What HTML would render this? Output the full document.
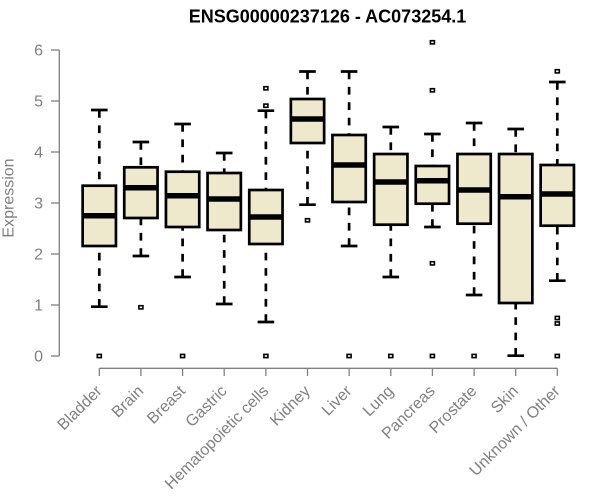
<!DOCTYPE html>
<html>
<head>
<meta charset="utf-8">
<style>
html,body{margin:0;padding:0;background:#fff;}
svg{display:block;}
text{font-family:"Liberation Sans",Arial,sans-serif;}
</style>
</head>
<body>
<svg width="600" height="500" viewBox="0 0 600 500" xmlns="http://www.w3.org/2000/svg">
<rect x="0" y="0" width="600" height="500" fill="#ffffff"/>
<text x="327.5" y="22.5" font-size="18" font-weight="bold" text-anchor="middle" fill="#000">ENSG00000237126 - AC073254.1</text>
<text transform="translate(13.5,198) rotate(-90)" font-size="16" text-anchor="middle" fill="#808080">Expression</text>

<!-- y axis -->
<g stroke="#808080" stroke-width="1.3" fill="none">
<line x1="59.3" y1="50" x2="59.3" y2="356"/>
<line x1="51" y1="50" x2="59.3" y2="50"/>
<line x1="51" y1="101" x2="59.3" y2="101"/>
<line x1="51" y1="152" x2="59.3" y2="152"/>
<line x1="51" y1="203" x2="59.3" y2="203"/>
<line x1="51" y1="254" x2="59.3" y2="254"/>
<line x1="51" y1="305" x2="59.3" y2="305"/>
<line x1="51" y1="356" x2="59.3" y2="356"/>
</g>
<g font-size="16" fill="#808080" text-anchor="end">
<text x="43" y="55.7">6</text>
<text x="43" y="106.7">5</text>
<text x="43" y="157.7">4</text>
<text x="43" y="208.7">3</text>
<text x="43" y="259.7">2</text>
<text x="43" y="310.7">1</text>
<text x="43" y="361.7">0</text>
</g>

<!-- x axis -->
<g stroke="#808080" stroke-width="1.3" fill="none">
<line x1="99.3" y1="368.3" x2="557.3" y2="368.3"/>
<line x1="99.3" y1="368.3" x2="99.3" y2="376"/>
<line x1="140.9" y1="368.3" x2="140.9" y2="376"/>
<line x1="182.6" y1="368.3" x2="182.6" y2="376"/>
<line x1="224.2" y1="368.3" x2="224.2" y2="376"/>
<line x1="265.9" y1="368.3" x2="265.9" y2="376"/>
<line x1="307.5" y1="368.3" x2="307.5" y2="376"/>
<line x1="349.1" y1="368.3" x2="349.1" y2="376"/>
<line x1="390.8" y1="368.3" x2="390.8" y2="376"/>
<line x1="432.4" y1="368.3" x2="432.4" y2="376"/>
<line x1="474.1" y1="368.3" x2="474.1" y2="376"/>
<line x1="515.7" y1="368.3" x2="515.7" y2="376"/>
<line x1="557.3" y1="368.3" x2="557.3" y2="376"/>
</g>
<g font-size="16" fill="#808080" text-anchor="end">
<text transform="translate(102.8,392) rotate(-45)">Bladder</text>
<text transform="translate(144.4,392) rotate(-45)">Brain</text>
<text transform="translate(186.1,392) rotate(-45)">Breast</text>
<text transform="translate(227.7,392) rotate(-45)">Gastric</text>
<text transform="translate(269.4,392) rotate(-45)">Hematopoietic cells</text>
<text transform="translate(311,392) rotate(-45)">Kidney</text>
<text transform="translate(352.6,392) rotate(-45)">Liver</text>
<text transform="translate(394.3,392) rotate(-45)">Lung</text>
<text transform="translate(435.9,392) rotate(-45)">Pancreas</text>
<text transform="translate(477.6,392) rotate(-45)">Prostate</text>
<text transform="translate(519.2,392) rotate(-45)">Skin</text>
<text transform="translate(560.8,392) rotate(-45)">Unknown / Other</text>
</g>

<!-- boxes -->
<g id="boxes"></g>
<script>
(function(){
var NS="http://www.w3.org/2000/svg";
var g=document.getElementById("boxes");
var hw=16.65, cw=8.3;
var data=[
[99.3,110,185.7,215.7,246,306.7,[356]],
[140.9,142,167.3,187.7,218,256,[307.3]],
[182.6,124,171.7,195.7,227,277,[356]],
[224.2,153,173,199,230,304,[]],
[265.9,110.7,190,217,244,322,[88.3,105.7,356]],
[307.5,71.5,99,119,143,204.7,[220.3]],
[349.1,71.5,135,165,202,246,[356]],
[390.8,127,154,182,224.7,277,[356]],
[432.4,134,166,180.7,203.7,227,[42.3,90.3,263.3,356]],
[474.1,123,154,190,223.7,295,[356]],
[515.7,129,154,196.7,303,355.7,[]],
[557.3,82,165,194,225.7,280.7,[71.3,318,323.5,356]]
];
function el(t,a){var e=document.createElementNS(NS,t);for(var k in a)e.setAttribute(k,a[k]);g.appendChild(e);return e;}
data.forEach(function(d){
var c=d[0],wt=d[1],q3=d[2],md=d[3],q1=d[4],wb=d[5],o=d[6];
el("line",{x1:c,y1:wt,x2:c,y2:q3,stroke:"#000","stroke-width":2.7,"stroke-dasharray":"7.7 7.7"});
el("line",{x1:c,y1:wb,x2:c,y2:q1,stroke:"#000","stroke-width":2.7,"stroke-dasharray":"7.7 7.7"});
el("line",{x1:c-cw,y1:wt,x2:c+cw,y2:wt,stroke:"#000","stroke-width":2.7});
el("line",{x1:c-cw,y1:wb,x2:c+cw,y2:wb,stroke:"#000","stroke-width":2.7});
el("rect",{x:c-hw,y:q3,width:2*hw,height:q1-q3,fill:"#EEE8CD",stroke:"#000","stroke-width":2.7});
el("line",{x1:c-hw,y1:md,x2:c+hw,y2:md,stroke:"#000","stroke-width":5.5});
o.forEach(function(y){
el("rect",{x:c-2,y:y-1.6,width:4,height:3.2,fill:"#fff",stroke:"#000","stroke-width":1.6});
});
});
})();
</script>
</svg>
</body>
</html>
